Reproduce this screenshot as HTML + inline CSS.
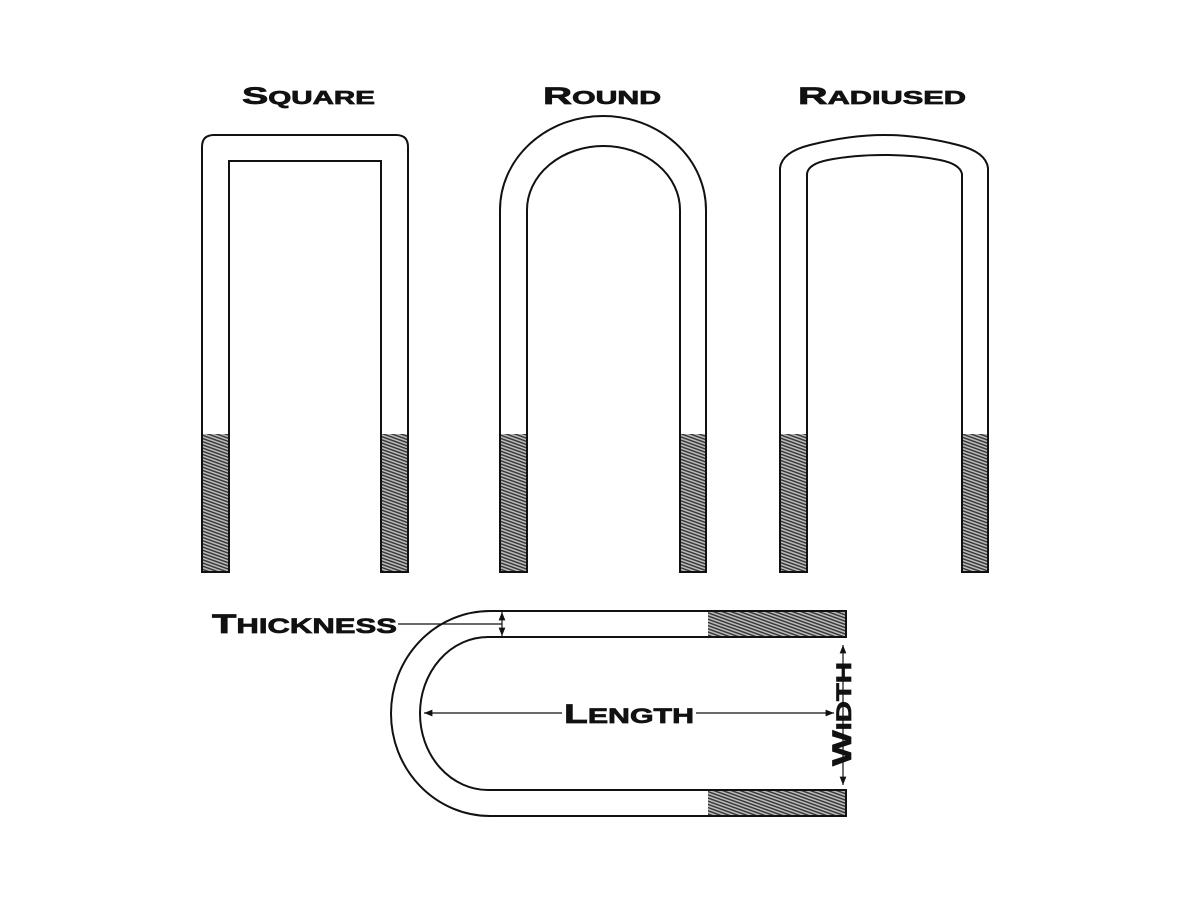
<!DOCTYPE html>
<html><head><meta charset="utf-8"><style>
html,body{margin:0;padding:0;background:#fff}
svg{display:block}
text{font-family:"Liberation Sans",sans-serif;font-weight:bold;fill:#111;stroke:#111;stroke-width:0.7}
</style></head><body>
<svg width="1200" height="906" viewBox="0 0 1200 906" xmlns="http://www.w3.org/2000/svg">
<defs>
<pattern id="th" width="3" height="3" patternUnits="userSpaceOnUse" patternTransform="rotate(20)">
<rect width="3" height="3" fill="#bbb"/>
<rect width="3" height="1.4" fill="#333"/>
</pattern>
<marker id="ar" viewBox="0 0 10 10" refX="10" refY="5" markerWidth="7" markerHeight="7" orient="auto-start-reverse">
<path d="M0,1 L10,5 L0,9 z" fill="#111"/>
</marker>
</defs>
<g fill="none" stroke="#111" stroke-width="2">
<rect x="202" y="434" width="27" height="138" fill="url(#th)" stroke="none"/>
<rect x="381" y="434" width="27" height="138" fill="url(#th)" stroke="none"/>
<path d="M202,572 V147 Q202,135 214,135 H396 Q408,135 408,147 V572 H381 V161 H229 V572 Z"/>
<rect x="500" y="434" width="27" height="138" fill="url(#th)" stroke="none"/>
<rect x="680" y="434" width="27" height="138" fill="url(#th)" stroke="none"/>
<path d="M500,572 V210 A103,94 0 0 1 706,210 V572 H680 V210 A76.5,64 0 0 0 527,210 V572 Z"/>
<rect x="780" y="434" width="27" height="138" fill="url(#th)" stroke="none"/>
<rect x="962" y="434" width="27" height="138" fill="url(#th)" stroke="none"/>
<path d="M780,572 V168 Q782,152 810,145 Q850,135 884,135 Q918,135 958,145 Q986,152 988,168 V572 H962 V174 Q960,164 940,160 Q915,155 884,155 Q853,155 828,160 Q808,164 807,174 V572 Z"/>
<rect x="708" y="611" width="138" height="26" fill="url(#th)" stroke="none"/>
<rect x="708" y="790" width="138" height="26" fill="url(#th)" stroke="none"/>
<path d="M846,611 H490 A99,102.5 0 0 0 490,816 H846 V790 H488 A68,76.5 0 0 1 488,637 H846 Z"/>
</g>
<g stroke="#111" stroke-width="1.2" fill="none">
<line x1="502" y1="612" x2="502" y2="636" marker-start="url(#ar)" marker-end="url(#ar)"/>
<line x1="398" y1="624" x2="502" y2="624"/>
<line x1="424" y1="713" x2="834" y2="713" marker-start="url(#ar)" marker-end="url(#ar)"/>
<line x1="843" y1="645" x2="843" y2="785" marker-start="url(#ar)" marker-end="url(#ar)"/>
</g>
<rect x="562" y="700" width="134" height="26" fill="#fff"/>
<g>
<text x="242" y="104" font-size="24" textLength="133" lengthAdjust="spacingAndGlyphs">S<tspan font-size="18">QUARE</tspan></text>
<text x="543" y="104" font-size="24" textLength="118" lengthAdjust="spacingAndGlyphs">R<tspan font-size="18">OUND</tspan></text>
<text x="798" y="104" font-size="24" textLength="168" lengthAdjust="spacingAndGlyphs">R<tspan font-size="18">ADIUSED</tspan></text>
<text x="212" y="633" font-size="27" textLength="185" lengthAdjust="spacingAndGlyphs">T<tspan font-size="21">HICKNESS</tspan></text>
<text x="564" y="723" font-size="27" textLength="130" lengthAdjust="spacingAndGlyphs">L<tspan font-size="21">ENGTH</tspan></text>
<text transform="translate(851,766) rotate(-90)" font-size="27" textLength="104" lengthAdjust="spacingAndGlyphs">W<tspan font-size="21">IDTH</tspan></text>
</g>
</svg>
</body></html>
